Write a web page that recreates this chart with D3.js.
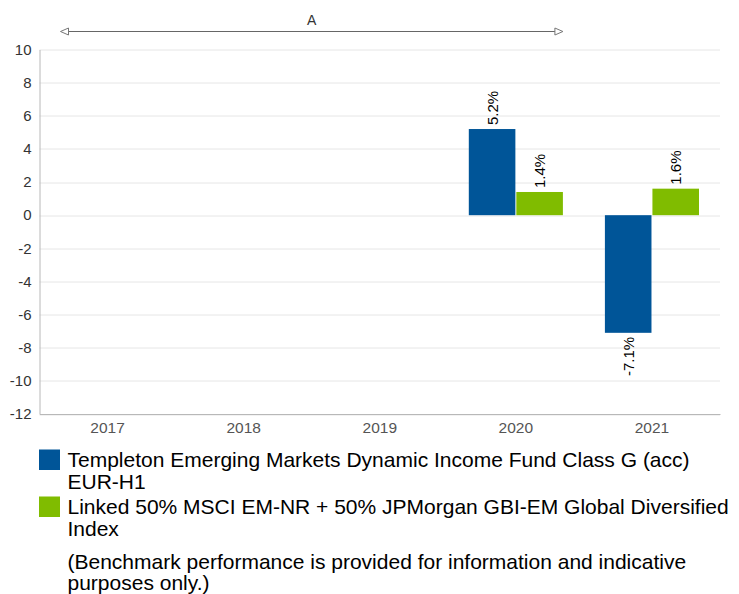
<!DOCTYPE html>
<html>
<head>
<meta charset="utf-8">
<script src="https://d3js.org/d3.v7.min.js"></script>
<style>
  body { margin: 0; background: #fff; font-family: "Liberation Sans", Arial, sans-serif; }
  svg { display: block; }
</style>
</head>
<body>
<div id="chart"></div>
<script>
// Calendar year returns (%)
const years = ['2017', '2018', '2019', '2020', '2021'];
const fundValues = [null, null, null, 5.2, -7.1];
const benchValues = [null, null, null, 1.4, 1.6];
const seriesNames = [
  ['Templeton Emerging Markets Dynamic Income Fund Class G (acc)', 'EUR-H1'],
  ['Linked 50% MSCI EM-NR + 50% JPMorgan GBI-EM Global Diversified', 'Index']
];
const seriesColors = ['#005598', '#80bc00'];
const yTicks = [10, 8, 6, 4, 2, 0, -2, -4, -6, -8, -10, -12];
const periodLabel = 'A';
const periodRange = ['2017', '2020'];
const note = ['(Benchmark performance is provided for information and indicative', 'purposes only.)'];

const W = 739, H = 594;
const margin = { top: 49.5, left: 39.5 };
const plotW = 720 - margin.left;
const plotH = 414 - margin.top;
const fam = '"Liberation Sans", Arial, sans-serif';

const svg = d3.select('#chart').append('svg')
  .attr('width', W).attr('height', H);

const x = d3.scaleBand().domain(years).range([0, plotW]);
const inner = d3.scaleBand().domain([0, 1]).range([21, x.bandwidth() - 21]).paddingInner(0.02);
const y = d3.scaleLinear().domain([-12, 10]).range([plotH, 0]);
const fmt = v => v.toFixed(1).replace('\u2212', '-') + '%';

const g = svg.append('g').attr('transform', `translate(${margin.left},${margin.top})`);

// gridlines
g.append('g')
  .selectAll('line')
  .data(yTicks)
  .join('line')
  .attr('x1', 0).attr('x2', plotW)
  .attr('y1', d => Math.round(y(d)) + 0.5).attr('y2', d => Math.round(y(d)) + 0.5)
  .attr('stroke', '#e6e6e6');

// y axis
const yAxis = g.append('g')
  .call(d3.axisLeft(y).tickValues(yTicks).tickFormat(d => String(d)).tickSize(0).tickPadding(8));
yAxis.select('.domain').attr('stroke', '#b8b8b8');
yAxis.selectAll('text')
  .attr('font-size', '15px').attr('fill', '#333').attr('font-family', fam);

// x axis
const xAxis = g.append('g')
  .attr('transform', `translate(0,${plotH})`)
  .call(d3.axisBottom(x).tickSize(0).tickPadding(8));
xAxis.select('.domain').attr('stroke', '#b8b8b8');
xAxis.selectAll('text')
  .attr('font-size', '15.5px').attr('fill', '#555').attr('font-family', fam);

// bars
const rows = years.map((yr, i) => ({ year: yr, vals: [fundValues[i], benchValues[i]] }));
const barG = g.append('g');
rows.forEach(r => {
  r.vals.forEach((v, k) => {
    if (v === null) return;
    const bx = x(r.year) + inner(k);
    const bw = inner.bandwidth();
    barG.append('rect')
      .attr('x', bx).attr('width', bw)
      .attr('y', y(Math.max(0, v)))
      .attr('height', Math.abs(y(v) - y(0)))
      .attr('fill', seriesColors[k]);
    const cx = bx + bw / 2;
    const ty = v >= 0 ? y(v) - 4 : y(v) + 4;
    barG.append('text')
      .attr('transform', `translate(${cx + 5.5},${ty}) rotate(-90)`)
      .attr('text-anchor', v >= 0 ? 'start' : 'end')
      .attr('font-size', '15px').attr('fill', '#000')
      .text(fmt(v));
  });
});

// period arrow
const ax1 = x(periodRange[0]) + inner(0);
const ax2 = x(periodRange[1]) + inner(1) + inner.bandwidth();
const ay = 31.5 - margin.top;
const arr = g.append('g');
arr.append('line')
  .attr('x1', ax1 + 6).attr('x2', ax2 - 6).attr('y1', ay).attr('y2', ay)
  .attr('stroke', '#666').attr('stroke-width', 1);
arr.append('path')
  .attr('d', `M${ax1},${ay} L${ax1 + 8},${ay - 3.5} L${ax1 + 8},${ay + 3.5} Z`)
  .attr('fill', '#fff').attr('stroke', '#777');
arr.append('path')
  .attr('d', `M${ax2},${ay} L${ax2 - 8},${ay - 3.5} L${ax2 - 8},${ay + 3.5} Z`)
  .attr('fill', '#fff').attr('stroke', '#777');
arr.append('text')
  .attr('x', (ax1 + ax2) / 2).attr('y', ay - 7)
  .attr('text-anchor', 'middle')
  .attr('font-size', '14px').attr('fill', '#333')
  .text(periodLabel);

// legend
const legend = svg.append('g').attr('font-size', '21px').attr('fill', '#000');
const legendTop = [449.5, 496.5];
seriesNames.forEach((lines, k) => {
  legend.append('rect')
    .attr('x', 39).attr('y', legendTop[k]).attr('width', 21).attr('height', 20.5)
    .attr('fill', seriesColors[k]);
  lines.forEach((t, j) => {
    legend.append('text')
      .attr('x', 67.5).attr('y', legendTop[k] + 17.5 + j * 21.5)
      .text(t);
  });
});
note.forEach((t, j) => {
  legend.append('text')
    .attr('x', 67.5).attr('y', 569 + j * 21)
    .text(t);
});
</script>
</body>
</html>
